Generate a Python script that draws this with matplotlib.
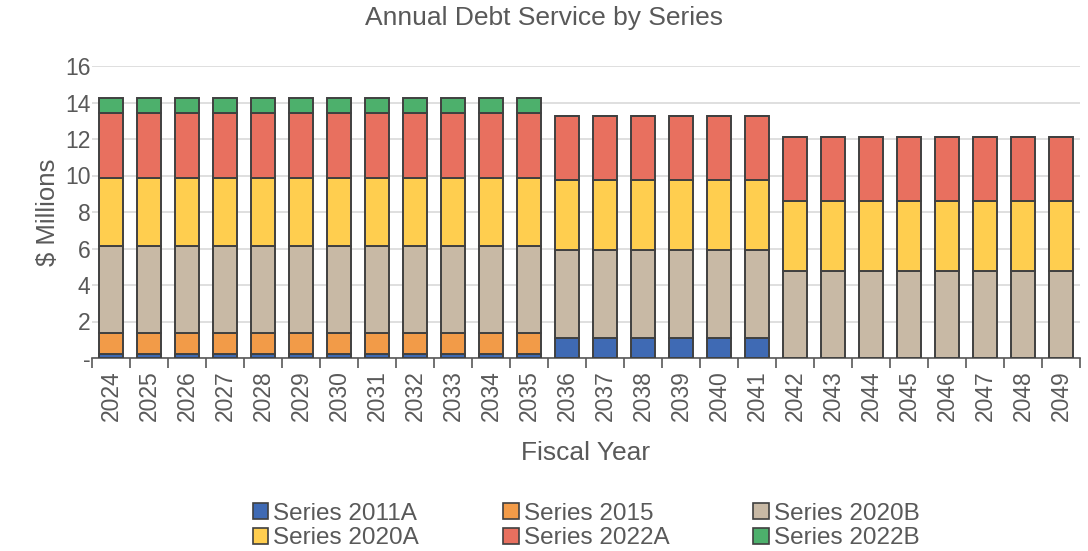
import numpy as np
import matplotlib
matplotlib.use("Agg")
import matplotlib.pyplot as plt
from matplotlib.patches import Patch
from matplotlib.ticker import FuncFormatter, MultipleLocator

plt.rcParams['font.family'] = ['Liberation Sans', 'DejaVu Sans']

# ------------------------------------------------------------------------------
# DATA ($ millions)
years = list(range(2024, 2050))
series_names = ["Series 2011A", "Series 2015", "Series 2020B",
                "Series 2020A", "Series 2022A", "Series 2022B"]

s2011a = [0.2] * 12 + [1.1] * 6 + [0.0] * 8
s2015 = [1.15] * 12 + [0.0] * 14
s2020b = [4.8] * 12 + [4.8] * 6 + [4.75] * 8
s2020a = [3.7] * 12 + [3.85] * 6 + [3.85] * 8
s2022a = [3.55] * 12 + [3.5] * 6 + [3.5] * 8
s2022b = [0.85] * 12 + [0.0] * 14

colors = ["#3F6AB4", "#F29B48", "#C8B9A5", "#FFCE4F", "#E8705F", "#4DB06C"]
text_col = "#595959"

# ------------------------------------------------------------------------------
# FIGURE
fig = plt.figure(figsize=(10.88, 5.51), dpi=100)
ax = fig.add_axes([92 / 1088, 1 - 358 / 551, (1080 - 92) / 1088, (358 - 66) / 551])

x = np.arange(len(years))
bottom = np.zeros(len(years))
for vals, col in zip([s2011a, s2015, s2020b, s2020a, s2022a, s2022b], colors):
    vals = np.array(vals)
    ax.bar(x, vals, width=0.64, bottom=bottom, color=col,
           edgecolor="#404040", linewidth=1.4, zorder=3)
    bottom += vals

ax.set_xlim(-0.5, len(years) - 0.5)
ax.set_ylim(0, 16)
ax.yaxis.set_major_locator(MultipleLocator(2))
ax.yaxis.set_major_formatter(FuncFormatter(lambda v, p: "-" if v == 0 else "%d" % v))
ax.grid(axis="y", color="#d9d9d9", linewidth=1.2, zorder=0)

ax.set_xticks(x)
ax.set_xticklabels([str(y) for y in years], rotation=90)
ax.set_xticks(np.arange(-0.5, len(years)), minor=True)
ax.tick_params(axis="x", which="major", length=0, labelsize=16.5,
               labelcolor=text_col, pad=9)
ax.tick_params(axis="x", which="minor", length=7, width=1.2, color="#595959")
ax.tick_params(axis="y", length=0, labelsize=16.5, labelcolor=text_col, pad=1)

for s in ["top", "right", "left"]:
    ax.spines[s].set_visible(False)
ax.spines["bottom"].set_color("#595959")
ax.spines["bottom"].set_linewidth(1.2)

ax.set_xlabel("Fiscal Year", fontsize=19, color=text_col, labelpad=14)
ax.set_ylabel("$ Millions", fontsize=18.5, color=text_col, labelpad=4)
fig.text(0.5, 1 - 18 / 551, "Annual Debt Service by Series", ha="center", va="center",
         fontsize=19, color=text_col)

# legend order: row-wise as in the picture
handles = [Patch(facecolor=c, edgecolor="#404040", linewidth=1.2) for c in colors]
order = [0, 3, 1, 4, 2, 5]
leg = fig.legend([handles[i] for i in order], [series_names[i] for i in order],
                 loc="center", bbox_to_anchor=(586 / 1088, 1 - 526 / 551),
                 ncol=3, frameon=False, fontsize=17.5, handlelength=0.65,
                 handleheight=0.65, handletextpad=0.2, columnspacing=3.45,
                 labelspacing=0.1, borderpad=0)
for t in leg.get_texts():
    t.set_color(text_col)

fig.savefig("out.png", dpi=100)
